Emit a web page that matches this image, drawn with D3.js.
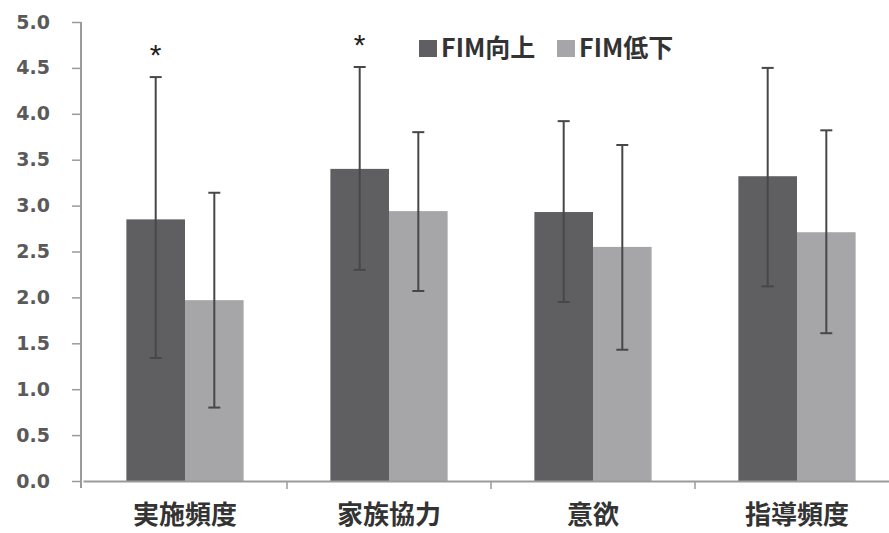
<!DOCTYPE html>
<html>
<head>
<meta charset="utf-8">
<script src="https://cdn.jsdelivr.net/npm/d3@7"></script>
<style>
  body { margin: 0; background: #fff; }
  text { font-family: "DejaVu Sans", "Noto Sans CJK JP", sans-serif; }
</style>
</head>
<body>
<div id="chart"></div>
<script>
// Data
const categories = ["実施頻度", "家族協力", "意欲", "指導頻度"];
const series = ["FIM向上", "FIM低下"];
const upMean = [2.85, 3.40, 2.93, 3.32];
const upHigh = [4.40, 4.51, 3.92, 4.50];
const upLow = [1.34, 2.30, 1.95, 2.12];
const downMean = [1.97, 2.94, 2.55, 2.71];
const downHigh = [3.14, 3.80, 3.66, 3.82];
const downLow = [0.80, 2.07, 1.43, 1.61];
const significant = [true, true, false, false];
const yTicks = [0, 0.5, 1, 1.5, 2, 2.5, 3, 3.5, 4, 4.5, 5];

function init() {
    const width = 889;
    const height = 533;
    const margin = { top: 22, right: -10, bottom: 52, left: 81 };

    const colors = { "FIM向上": "#5f5f62", "FIM低下": "#a6a6a8" };

    const rows = [];
    categories.forEach((c, i) => {
        rows.push({ cat: c, s: series[0], v: upMean[i], hi: upHigh[i], lo: upLow[i] });
        rows.push({ cat: c, s: series[1], v: downMean[i], hi: downHigh[i], lo: downLow[i] });
    });

    const x = d3.scaleBand().domain(categories)
        .range([margin.left + 2, width - margin.right]).padding(0);
    const x1 = d3.scaleBand().domain(series)
        .range([0, x.bandwidth()]).paddingInner(0).paddingOuter(0.74);
    const y = d3.scaleLinear().domain([0, 5]).range([height - margin.bottom, margin.top]);

    const svg = d3.select("#chart").append("svg")
        .attr("width", width).attr("height", height);

    // bars
    svg.append("g").selectAll("rect")
        .data(rows).enter().append("rect")
        .attr("x", d => x(d.cat) + x1(d.s))
        .attr("y", d => y(d.v))
        .attr("width", x1.bandwidth())
        .attr("height", d => y(0) - y(d.v))
        .attr("fill", d => colors[d.s]);

    // error bars
    const err = svg.append("g").attr("stroke", "#474749").attr("stroke-width", 2);
    rows.forEach(d => {
        const cx = x(d.cat) + x1(d.s) + x1.bandwidth() / 2;
        err.append("line").attr("x1", cx).attr("x2", cx).attr("y1", y(d.hi)).attr("y2", y(d.lo));
        err.append("line").attr("x1", cx - 6).attr("x2", cx + 6).attr("y1", y(d.hi)).attr("y2", y(d.hi));
        err.append("line").attr("x1", cx - 6).attr("x2", cx + 6).attr("y1", y(d.lo)).attr("y2", y(d.lo));
    });

    // y axis
    const yAxis = svg.append("g")
        .attr("transform", `translate(${margin.left},0)`)
        .call(d3.axisLeft(y).tickValues(yTicks).tickFormat(d3.format(".1f")).tickSize(9).tickPadding(22));
    yAxis.select(".domain").attr("stroke", "#9a9a9a").attr("stroke-width", 2)
        .attr("d", `M0,${y(5)}V${y(0) + 7}`);
    yAxis.selectAll(".tick line").attr("stroke", "#9a9a9a").attr("stroke-width", 1.5);
    yAxis.selectAll(".tick text")
        .attr("fill", "#5a5a5a").attr("font-size", 19).attr("font-weight", "bold")
        .style("font-family", "'DejaVu Sans', sans-serif");

    // x axis
    const xAxis = svg.append("g")
        .attr("transform", `translate(0,${y(0)})`)
        .call(d3.axisBottom(x).tickSize(0).tickPadding(25));
    xAxis.select(".domain").attr("stroke", "#9a9a9a").attr("stroke-width", 2);
    xAxis.selectAll(".tick text")
        .attr("fill", "#333").attr("font-size", 26).attr("font-weight", "bold")
        .style("font-family", "'Noto Sans CJK JP', sans-serif");
    // boundary ticks between categories
    xAxis.selectAll(".sep")
        .data(categories.slice(1)).enter().append("line")
        .attr("x1", d => x(d)).attr("x2", d => x(d))
        .attr("y1", 0).attr("y2", 8)
        .attr("stroke", "#9a9a9a").attr("stroke-width", 1.5);

    // significance marks above the upper error bar
    svg.append("g").selectAll("text")
        .data(categories.map((c, i) => ({ c, hi: upHigh[i] })).filter((d, i) => significant[i]))
        .enter().append("text")
        .attr("x", d => x(d.c) + x1(series[0]) + x1.bandwidth() / 2)
        .attr("y", d => y(d.hi) - 12)
        .attr("text-anchor", "middle")
        .attr("font-size", 30)
        .attr("fill", "#222")
        .style("font-family", "'Liberation Sans', sans-serif")
        .text("*");

    // legend
    const legend = svg.append("g").attr("transform", "translate(419,57)");
    const legendX = [0, 138];
    series.forEach((s, i) => {
        legend.append("rect")
            .attr("x", legendX[i]).attr("y", -17)
            .attr("width", 18).attr("height", 17)
            .attr("fill", colors[s]);
        legend.append("text")
            .attr("x", legendX[i] + 22).attr("y", 0)
            .attr("font-size", 25).attr("font-weight", "bold")
            .attr("fill", "#333")
            .style("font-family", "'Noto Sans CJK JP', sans-serif")
            .text(s);
    });
}

window.onload = init;
</script>
</body>
</html>
